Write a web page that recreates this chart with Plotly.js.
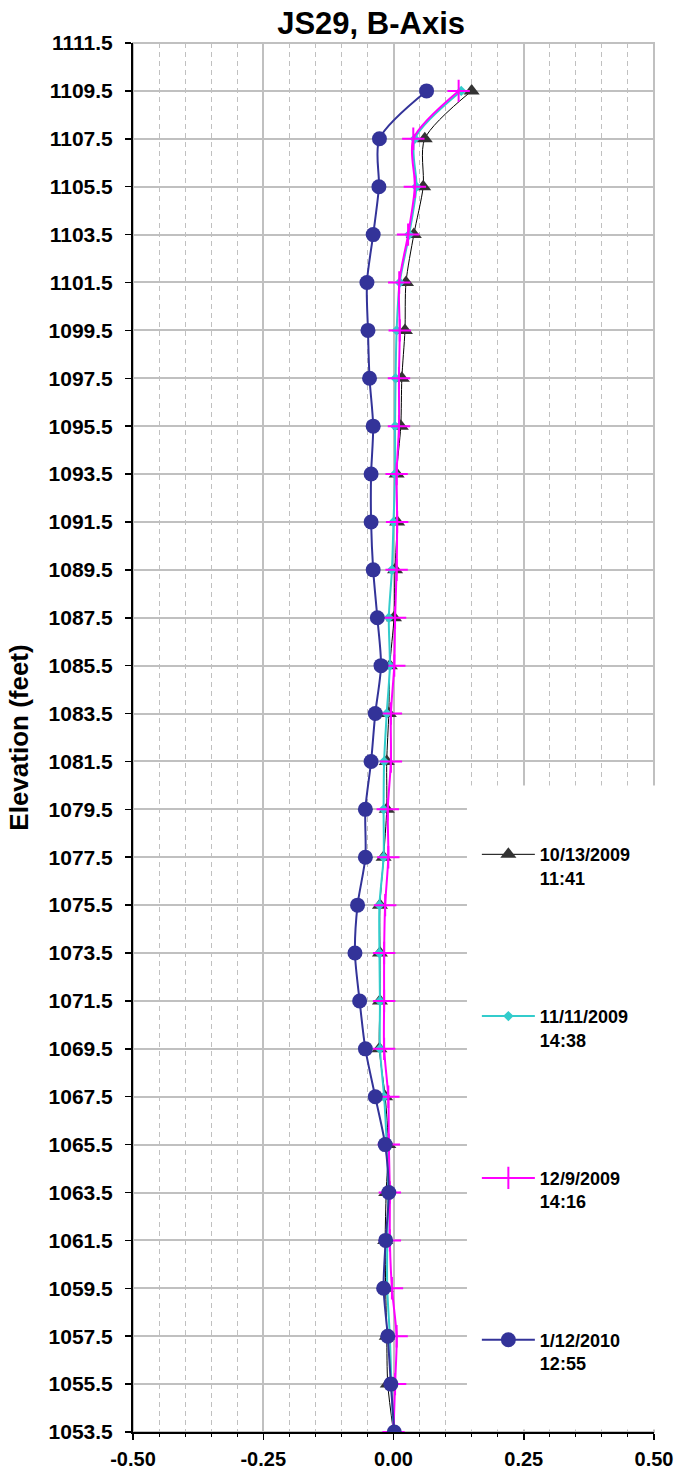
<!DOCTYPE html>
<html>
<head>
<meta charset="utf-8">
<script src="https://cdn.plot.ly/plotly-3.0.1.min.js"></script>
<style>html,body{margin:0;padding:0;background:#fff;}#chart{width:679px;height:1473px;}</style>
</head>
<body>
<div id="chart"></div>
<script>
const elevation = [1109.5,1107.5,1105.5,1103.5,1101.5,1099.5,1097.5,1095.5,1093.5,1091.5,1089.5,1087.5,1085.5,1083.5,1081.5,1079.5,1077.5,1075.5,1073.5,1071.5,1069.5,1067.5,1065.5,1063.5,1061.5,1059.5,1057.5,1055.5,1053.5];

const s20091013 = [0.150,0.060,0.057,0.039,0.024,0.022,0.016,0.014,0.006,0.007,0.003,0.001,-0.007,-0.009,-0.013,-0.013,-0.019,-0.026,-0.026,-0.026,-0.027,-0.016,-0.010,-0.014,-0.016,-0.015,-0.013,-0.011,0.000];
const s20091111 = [0.130,0.041,0.044,0.030,0.012,0.006,0.004,0.003,0.003,0.000,-0.003,-0.009,-0.007,-0.013,-0.018,-0.019,-0.019,-0.027,-0.027,-0.026,-0.026,-0.018,-0.013,-0.010,-0.012,-0.012,-0.007,-0.004,0.000];
const s20091209 = [0.125,0.038,0.041,0.028,0.011,0.012,0.0105,0.0105,0.006,0.007,0.006,0.003,0.0015,-0.005,-0.005,-0.011,-0.010,-0.016,-0.018,-0.018,-0.018,-0.010,-0.009,-0.007,-0.007,-0.003,0.006,0.003,0.000];
const s20100112 = [0.0635,-0.027,-0.028,-0.039,-0.051,-0.049,-0.046,-0.039,-0.043,-0.043,-0.039,-0.031,-0.024,-0.035,-0.043,-0.054,-0.054,-0.069,-0.074,-0.065,-0.054,-0.035,-0.016,-0.009,-0.015,-0.019,-0.011,-0.005,0.0015];

const seriesNames = ['10/13/2009<br>11:41','11/11/2009<br>14:38','12/9/2009<br>14:16','1/12/2010<br>12:55'];
const xTickVals = [-0.5,-0.25,0,0.25,0.5];
const xTickText = ['-0.50','-0.25','0.00','0.25','0.50'];

const traces = [
  {x:s20091013, y:elevation, name:seriesNames[0], legendgroup:'a', mode:'lines+markers',
   line:{color:'#000000', width:1, shape:'spline', smoothing:0.8},
   marker:{symbol:'triangle-up', size:14, color:'#333333'}},
  {x:s20091111, y:elevation, name:seriesNames[1], legendgroup:'b', mode:'lines+markers',
   line:{color:'#33cccc', width:2, shape:'spline', smoothing:0.8},
   marker:{symbol:'diamond', size:8, color:'#33cccc'}},
  {x:s20091209, y:elevation, name:seriesNames[2], legendgroup:'c', mode:'lines+markers',
   line:{color:'#ff00ff', width:2, shape:'spline', smoothing:0.8},
   marker:{symbol:'cross-thin', size:16, color:'#ff00ff', line:{color:'#ff00ff', width:2}}},
  {x:s20100112, y:elevation, name:seriesNames[3], legendgroup:'d', mode:'lines+markers',
   line:{color:'#333399', width:2, shape:'spline', smoothing:0.8},
   marker:{symbol:'circle', size:15, color:'#333399'}}
];

const F = 'Liberation Sans, Arial, sans-serif';
const layout = {
  width:679, height:1473,
  margin:{l:133, r:25, t:43, b:41},
  paper_bgcolor:'#ffffff', plot_bgcolor:'#ffffff',
  title:{text:'JS29, B-Axis', font:{family:F, size:31, color:'#000', weight:'bold'},
         x:0.457, xref:'paper', xanchor:'center', y:0.984, yref:'container', yanchor:'middle'},
  xaxis:{range:[-0.5,0.5], tickvals:xTickVals, ticktext:xTickText,
    showgrid:true, gridcolor:'#c0c0c0', gridwidth:2, zeroline:false,
    showline:true, linecolor:'#000', linewidth:2,
    ticks:'outside', ticklen:6, tickwidth:1.5, tickcolor:'#000', ticklabelstandoff:2,
    tickfont:{family:F, size:20, color:'#000', weight:'bold'},
    minor:{dtick:0.05, tick0:0, showgrid:true, gridcolor:'#c0c0c0', gridwidth:1, griddash:'5px,4px',
           ticks:'outside', ticklen:3, tickcolor:'#000', tickwidth:1}},
  yaxis:{range:[1053.5,1111.5], tick0:1053.5, dtick:2, tickformat:'.1f',
    showgrid:true, gridcolor:'#c0c0c0', gridwidth:2, zeroline:false,
    showline:true, linecolor:'#000', linewidth:2,
    ticks:'outside', ticklen:6, tickwidth:1.5, tickcolor:'#000', ticklabelstandoff:8,
    tickfont:{family:F, size:21, color:'#000', weight:'bold'},
    title:{text:'Elevation (feet)', font:{family:F, size:26, color:'#000', weight:'bold'}, standoff:12}},
  showlegend:true,
  legend:{x:0.66, xanchor:'left', y:0.429, yanchor:'top', bgcolor:'rgba(0,0,0,0)',
    font:{family:F, size:18, color:'#000', weight:'bold'}, valign:'top',
    tracegroupgap:112, itemwidth:53},
  shapes:[
    {type:'rect', xref:'paper', yref:'paper', x0:0, x1:1, y0:0, y1:1, layer:'below',
     line:{color:'#c0c0c0', width:2}, fillcolor:'rgba(0,0,0,0)'},
    {type:'rect', xref:'paper', yref:'y', x0:0.641, x1:1.06, y0:1053.6, y1:1080.5, layer:'above',
     line:{width:0}, fillcolor:'#ffffff'}
  ]
};
Plotly.newPlot('chart', traces, layout, {displayModeBar:false, staticPlot:true});
</script>
</body>
</html>
